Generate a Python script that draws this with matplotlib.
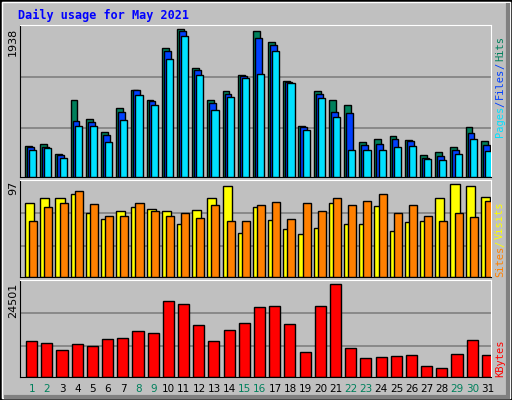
import matplotlib
matplotlib.use("Agg")
import matplotlib.pyplot as plt
from matplotlib.patches import Rectangle
import numpy as np

days = list(range(1, 32))
weekend = [1, 2, 8, 9, 15, 16, 22, 23, 29, 30]
hits = [412,439,307,1017,767,596,912,1149,1017,1688,1938,1425,1017,1123,1333,1912,1767,1267,675,1123,1017,952,465,504,544,491,294,333,399,662,478]
files = [399,399,289,741,728,557,859,1136,1004,1649,1912,1399,978,1096,1320,1820,1728,1254,662,1096,859,846,425,438,504,478,254,281,360,583,425]
pages = [360,386,254,675,675,465,754,1083,952,1544,1846,1346,886,1057,1294,1359,1649,1228,623,1044,794,360,360,360,399,412,241,228,307,504,346]
visits = [78,83,83,87,67,61,69,73,71,69,55,70,83,95,46,73,60,50,45,51,77,56,56,74,48,58,59,83,97,95,84]
sites = [59,73,78,90,76,64,64,77,69,64,67,62,75,59,59,75,79,61,77,69,83,75,80,87,67,75,64,59,67,63,80]
kbytes = [9479,8942,7064,8674,8137,10015,10283,12161,11625,19941,19136,13771,9479,12429,14307,18331,18599,14039,6528,18599,24501,7601,4918,5186,5455,5723,2772,2504,5991,9747,5723]

GRAY = "#C0C0C0"
W, H = 512, 400
fig = plt.figure(figsize=(W/100, H/100), dpi=100, facecolor=GRAY)

# outer bevel
fig.patches.append(Rectangle((0, 0), 1, 1, transform=fig.transFigure, fill=False, edgecolor="black", lw=2))
fig.patches.append(Rectangle((2/W, 2/H), 1-4/W, 1-4/H, transform=fig.transFigure, fill=False, edgecolor="white", lw=1))
fig.patches.append(Rectangle((4/W, 3/H), 1-6/W, 0, transform=fig.transFigure, fill=False, edgecolor="#808080", lw=3))
fig.patches.append(Rectangle((1-4/W, 3/H), 0, 1-6/H, transform=fig.transFigure, fill=False, edgecolor="#808080", lw=3))

fig.text(18/W, 1-15/H, "Daily usage for May 2021", color="#0000FF", fontsize=8.5,
         fontweight="bold", family="DejaVu Sans Mono", va="center", ha="left")

x = np.arange(31)

def make_ax(top, bottom):
    ax = fig.add_axes([20/W, 1-bottom/H, 471/W, (bottom-top)/H])
    ax.set_facecolor(GRAY)
    ax.set_xlim(0, 31)
    ax.set_xticks([])
    ax.set_yticks([])
    for s in ["left", "bottom"]:
        ax.spines[s].set_color("black")
    for s in ["top", "right"]:
        ax.spines[s].set_color("white")
    return ax

def grid(ax, top):
    for f in (0.32, 0.66):
        ax.axhline(top*f, color="#808080", lw=1.2, zorder=0)

ax1 = make_ax(25, 177)
top1 = max(hits)*1.03
ax1.set_ylim(0, top1)
grid(ax1, top1)
ax1.bar(x+0.33, hits, width=0.45, align="edge", color="#00805C", edgecolor="black", lw=1, zorder=2)
ax1.bar(x+0.46, files, width=0.45, align="edge", color="#0040FF", edgecolor="black", lw=1, zorder=3)
ax1.bar(x+0.60, pages, width=0.47, align="edge", color="#00E0FF", edgecolor="black", lw=1, zorder=4)

ax2 = make_ax(180, 277)
top2 = max(visits)*1.047
ax2.set_ylim(0, top2)
grid(ax2, top2)
ax2.bar(x+0.33, visits, width=0.6, align="edge", color="#FFFF00", edgecolor="black", lw=1, zorder=2)
ax2.bar(x+0.60, sites, width=0.53, align="edge", color="#FF8000", edgecolor="black", lw=1, zorder=3)

ax3 = make_ax(280, 377)
top3 = max(kbytes)*1.044
ax3.set_ylim(0, top3)
grid(ax3, top3)
ax3.bar(x+0.40, kbytes, width=0.73, align="edge", color="#FF0000", edgecolor="black", lw=1, zorder=2)
ax3.set_xticks(x+0.78)
ax3.set_xticklabels([str(d) for d in days], fontsize=7.5)
ax3.tick_params(axis="x", length=0, pad=5)
for lab, d in zip(ax3.get_xticklabels(), days):
    lab.set_color("#00805C" if d in weekend else "black")

# left max labels
for txt, ytop in (("1938", 28), ("97", 181), ("24501", 283)):
    fig.text(13/W, 1-ytop/H, txt, rotation=90, fontsize=8, ha="center", va="top")

# right legends (rotated, bottom to top)
def rlabel(parts, ybottom):
    y = ybottom
    for txt, col, h in parts:
        fig.text(500/W, 1-y/H, txt, rotation=90, color=col, fontsize=7.5,
                 family="DejaVu Sans Mono", ha="center", va="bottom")
        y -= h
rlabel([("Pages", "#00E0FF", 30), ("/", "#0040FF", 8), ("Files", "#0040FF", 30), ("/", "#0040FF", 8), ("Hits", "#00805C", 24)], 137)
rlabel([("Sites", "#FF8000", 30), ("/", "#FFFF00", 8), ("Visits", "#FFFF00", 36)], 277)
rlabel([("KBytes", "#FF0000", 36)], 377)

fig.savefig("out.png", dpi=100, facecolor=GRAY)
